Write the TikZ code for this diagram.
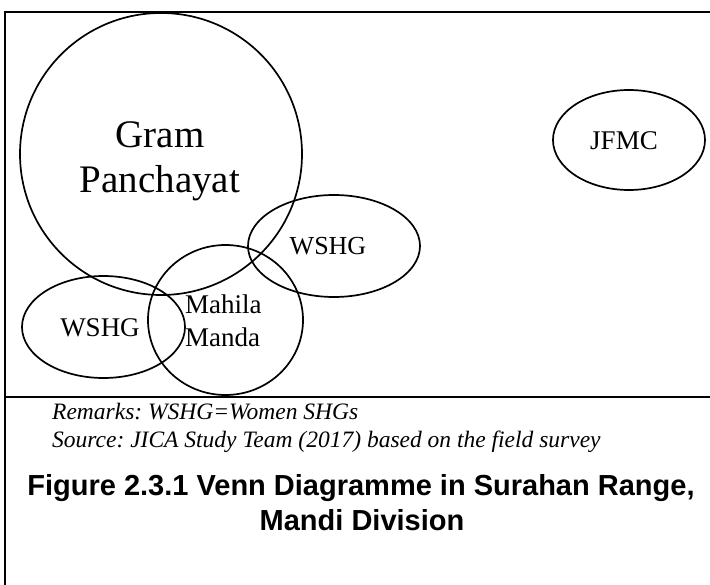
\documentclass[tikz,border=0pt]{standalone}
\usepackage{fontspec}
\setmainfont{Liberation Serif}
\newfontfamily\headfont{Liberation Sans}
\usetikzlibrary{shapes.geometric}
\newcommand{\fsz}[1]{\fontsize{#1}{#1}\selectfont}
\frenchspacing
\begin{document}
\begin{tikzpicture}[x=1pt,y=-1pt,
  setshape/.style={draw, ellipse, inner sep=0pt, line width=1.7pt},
  label/.style={inner sep=0pt, anchor=base},
  note/.style={inner sep=0pt, anchor=base west, font=\fsz{23.5}\itshape},
  caption/.style={inner sep=0pt, anchor=base, font=\headfont\bfseries\fsz{29}},
  frame/.style={line width=2.8pt}]
\useasboundingbox (0,0) rectangle (710,585);

% frame and separator
\coordinate (tr) at (710,12);
\coordinate (tl) at (5,12);
\coordinate (bl) at (5,585);
\coordinate (sl) at (5,397);
\coordinate (sr) at (710,397);
\draw[frame] (tr) -- (tl) -- (bl);
\draw[frame] (sl) -- (sr);

% sets
\node[setshape, minimum width=282pt, minimum height=282pt] (gp) at (161,154) {};
\node[setshape, minimum width=172pt, minimum height=102pt] (wshgR) at (334,246) {};
\node[setshape, minimum width=155pt, minimum height=150pt] (mm) at (225.5,320) {};
\node[setshape, minimum width=163pt, minimum height=102pt] (wshgL) at (103.5,327) {};
\node[setshape, minimum width=152pt, minimum height=100pt] (jfmc) at (629,140) {};

% set labels
\node[label, font=\fsz{39}] (gpA) at (160,148) {Gram};
\node[label, font=\fsz{39}] (gpB) at (160,193) {Panchayat};
\node[label, font=\fsz{26}] (wshgRt) at (328,255) {WSHG};
\node[label, anchor=base west, font=\fsz{27}] (mmA) at (185,314) {Mahila};
\node[label, anchor=base west, font=\fsz{27}] (mmB) at (185,347) {Manda};
\node[label, font=\fsz{27}] (wshgLt) at (100,337) {WSHG};
\node[label, font=\fsz{27}] (jfmct) at (624,150) {JFMC};

% notes and caption
\node[note] (rem) at (52,420) {Remarks: WSHG=Women SHGs};
\node[note] (src) at (52,447) {Source: JICA Study Team (2017) based on the field survey};
\node[caption] (capA) at (361,495) {Figure 2.3.1 Venn Diagramme in Surahan Range,};
\node[caption] (capB) at (362,530) {Mandi Division};
\end{tikzpicture}
\end{document}
